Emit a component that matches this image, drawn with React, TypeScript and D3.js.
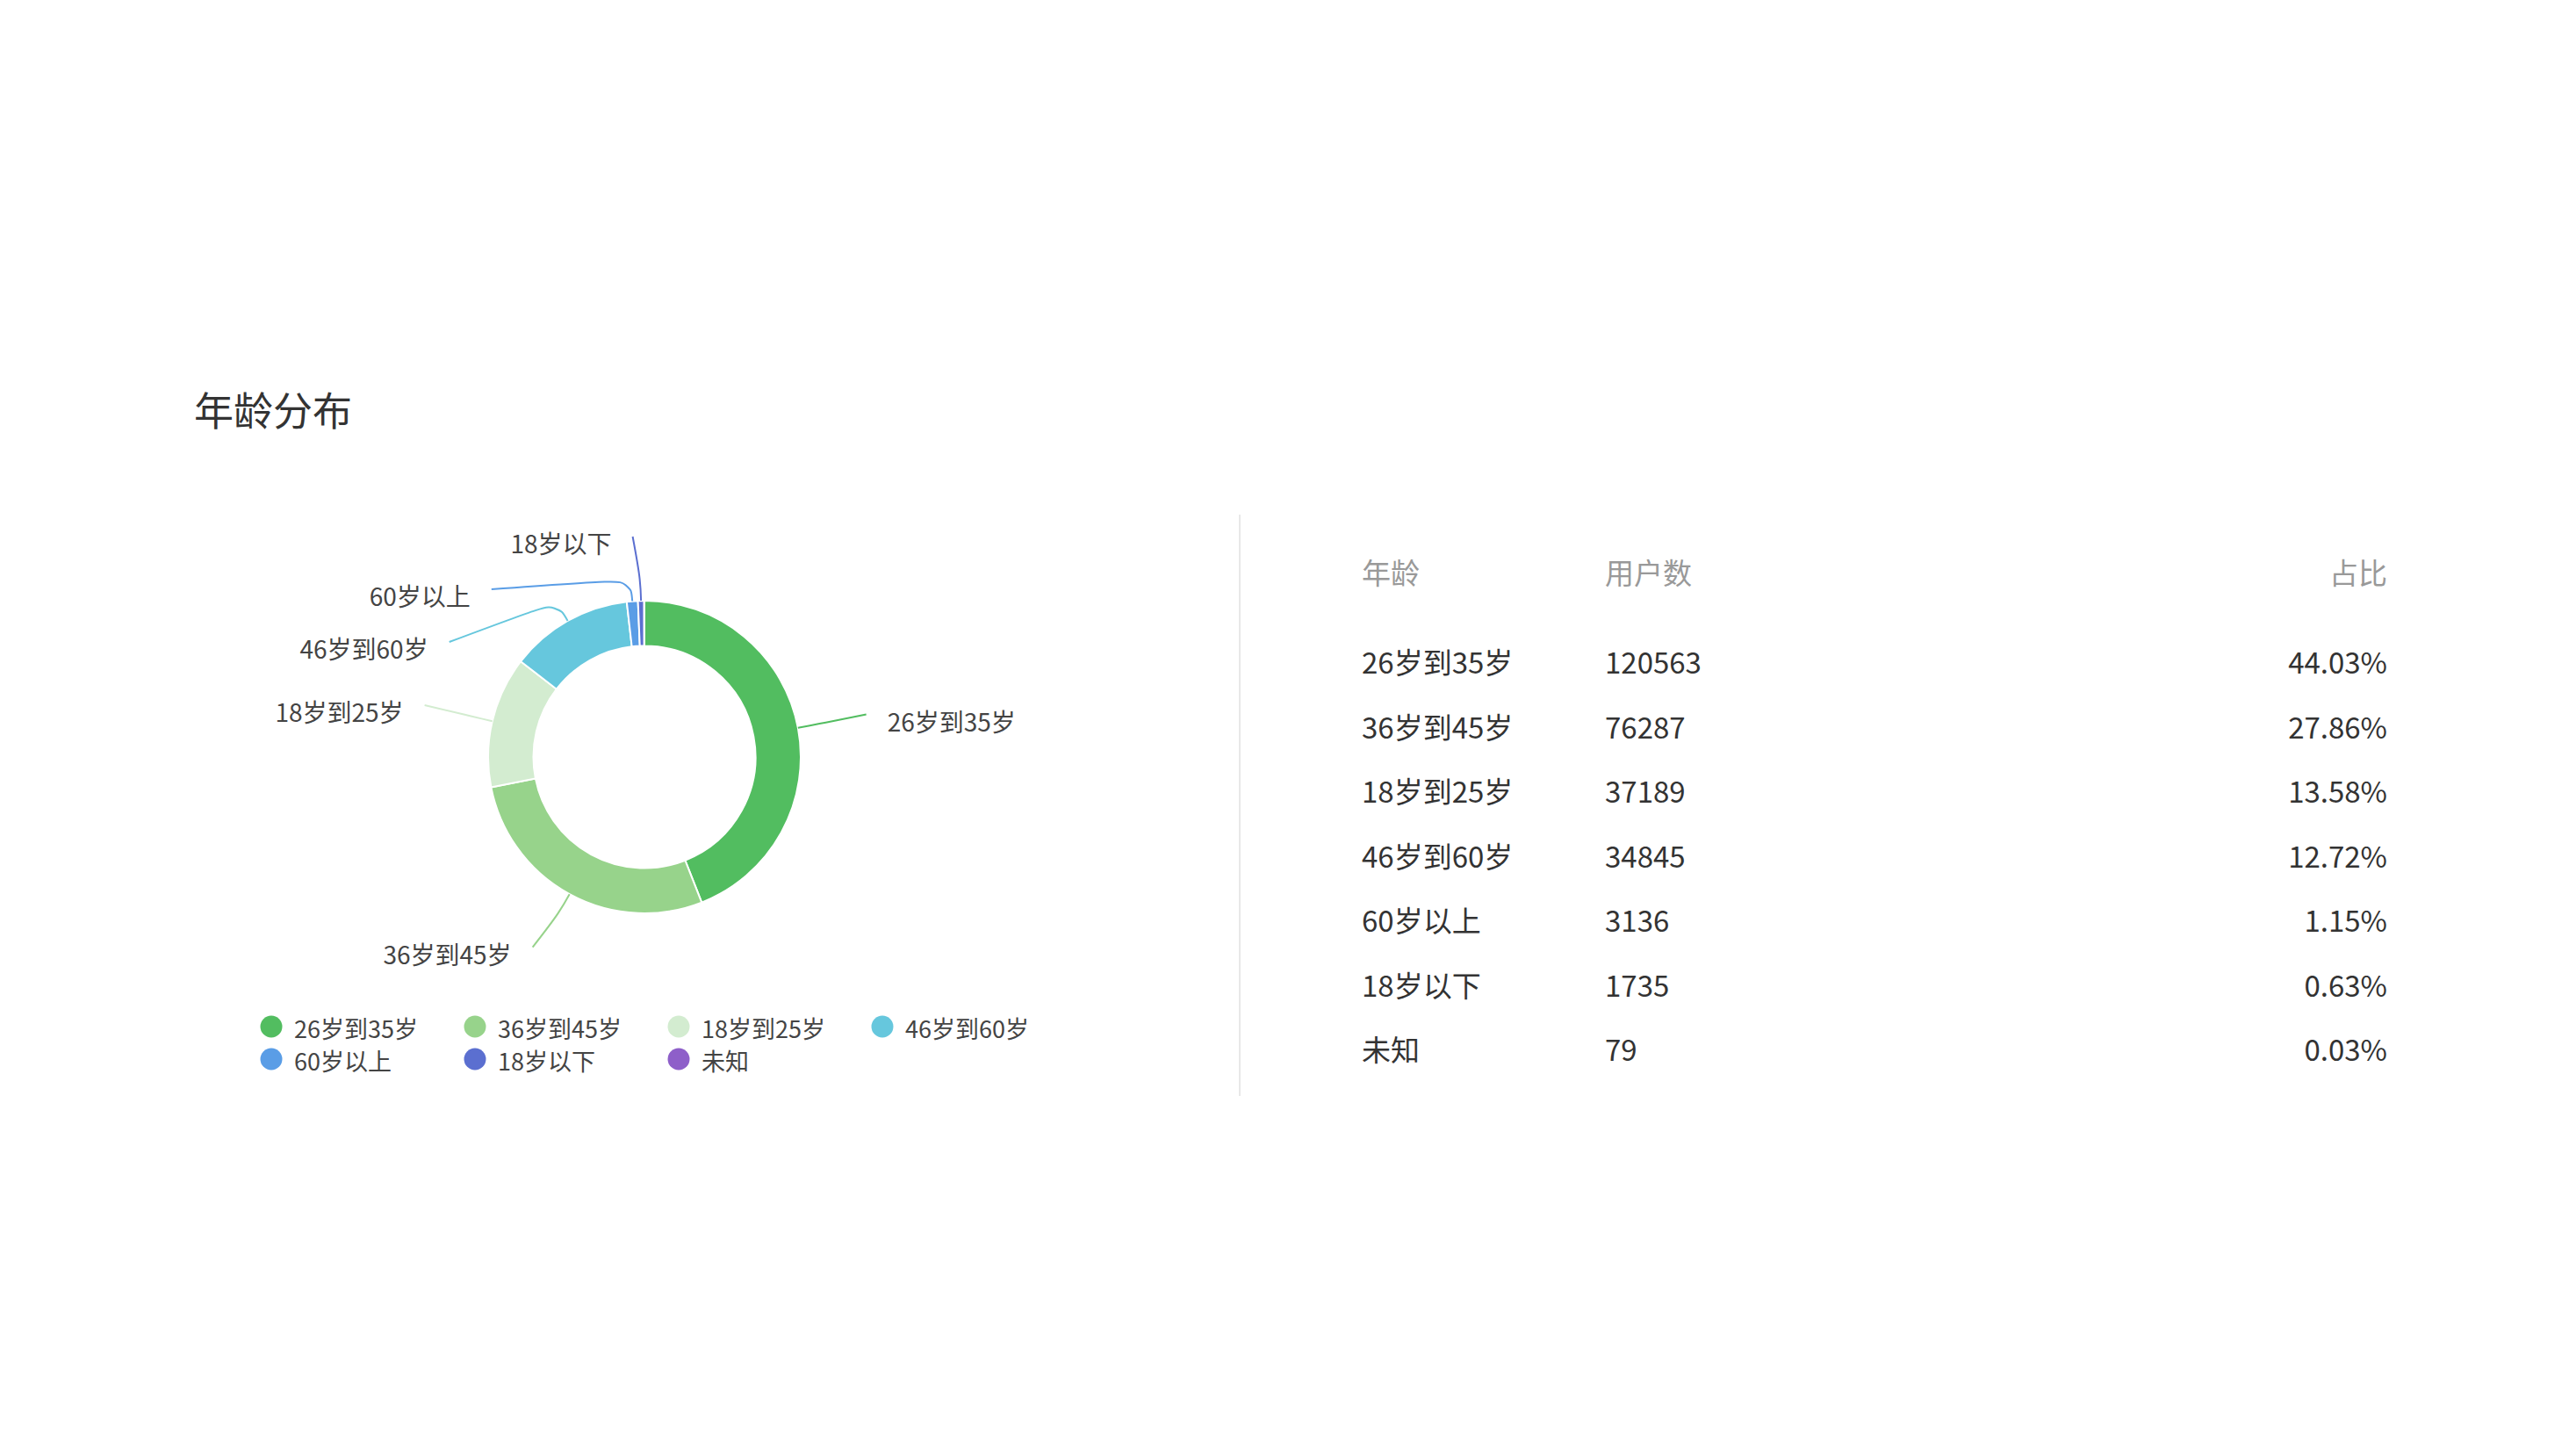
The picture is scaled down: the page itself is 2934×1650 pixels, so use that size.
import React from "react";
import * as d3 from "d3";

const title = "年龄分布";
const categories = ["26岁到35岁", "36岁到45岁", "18岁到25岁", "46岁到60岁", "60岁以上", "18岁以下", "未知"];
const userCounts = [120563, 76287, 37189, 34845, 3136, 1735, 79];
const sliceColors = ["#52bd60", "#97d38b", "#d3ecd0", "#66c7dd", "#5a9de6", "#5b6fd0", "#8e5fc9"];
const tableHeaders = ["年龄", "用户数", "占比"];

const FONT = "'Noto Sans CJK SC', 'Noto Sans', sans-serif";

type Pt = [number, number];

function smoothLinePath(p0: Pt, p1: Pt, p2: Pt, smooth: number) {
  const dist = (a: Pt, b: Pt) => Math.hypot(a[0] - b[0], a[1] - b[1]);
  const lerp = (a: Pt, b: Pt, t: number): Pt => [a[0] + (b[0] - a[0]) * t, a[1] + (b[1] - a[1]) * t];
  const l1 = dist(p0, p1);
  const l2 = dist(p1, p2);
  const p = d3.path();
  p.moveTo(p0[0], p0[1]);
  if (!l1 || !l2) {
    p.lineTo(p1[0], p1[1]);
    p.lineTo(p2[0], p2[1]);
    return p.toString();
  }
  const m = Math.min(l1, l2) * smooth;
  const m0 = lerp(p1, p0, m / l1);
  const m2 = lerp(p1, p2, m / l2);
  const m1 = lerp(m0, m2, 0.5);
  p.bezierCurveTo(m0[0], m0[1], m0[0], m0[1], m1[0], m1[1]);
  p.bezierCurveTo(m2[0], m2[1], m2[0], m2[1], p2[0], p2[1]);
  return p.toString();
}

export default function App() {
  const W = 2934, H = 1650;
  const cx = 734, cy = 862, R = 178, r0 = 126.5;
  const len = 71, len2 = 8, lineLen = 25, labelDist = 24, labelH = 60;

  const data = categories.map((c, i) => ({ name: c, value: userCounts[i], color: sliceColors[i] }));
  const total = d3.sum(userCounts);
  const arcs = d3.pie<any>().sort(null).value((d: any) => d.value)(data);
  const arcGen = d3.arc<any>().innerRadius(r0).outerRadius(R);

  // label layout (ECharts-like)
  const minAngle = (1 * Math.PI) / 180;
  const items = arcs
    .filter((a) => a.endAngle - a.startAngle > minAngle)
    .map((a) => {
      const mid = (a.startAngle + a.endAngle) / 2;
      const dx = Math.sin(mid), dy = -Math.cos(mid);
      const dir = dx < 0 ? -1 : 1;
      return {
        a, dx, dy, dir,
        x: cx + dx * (R + len) + dir * len2,
        y: cy + dy * (R + len),
        shifted: false,
        p0: [cx + dx * R, cy + dy * R] as Pt,
        p1: [cx + dx * (R + lineLen), cy + dy * (R + lineLen)] as Pt,
      };
    });
  [-1, 1].forEach((side) => {
    const list = items.filter((it) => it.dir === side).sort((p, q) => p.y - q.y);
    for (let i = 1; i < list.length; i++) {
      const need = list[i - 1].y + labelH;
      if (list[i].y < need) {
        list[i].y = need;
        list[i].shifted = true;
      }
    }
    const rr = R + len + len2;
    list.forEach((it) => {
      if (!it.shifted) return;
      const dY = Math.abs(it.y - cy);
      if (dY < R + len) it.x = cx + side * Math.sqrt(rr * rr - dY * dY);
    });
  });

  const legendX = d3.scaleLinear().domain([0, 1]).range([309, 309 + 232]);
  const rowY = d3.scaleLinear().domain([0, 1]).range([753, 753 + 73.5]);

  return (
    <svg width={W} height={H} style={{ position: "fixed", left: 0, top: 0, background: "#fff", fontFamily: FONT }}>
      <rect width={W} height={H} fill="#fff" />
      <text x={221} y={465} fontSize={45} fill="#333" dominantBaseline="central">{title}</text>

      {/* donut */}
      <g transform={`translate(${cx},${cy})`}>
        {arcs.map((a, i) => (
          <path key={i} d={arcGen(a) as string} fill={a.data.color} stroke="#fff" strokeWidth={2} strokeLinejoin="round" />
        ))}
      </g>

      {/* label lines and labels */}
      {items.map((it, i) => {
        const p2: Pt = [it.x, it.y - 2];
        return (
          <g key={i}>
            <path d={smoothLinePath(it.p0, it.p1, p2, 0.5)} fill="none" stroke={it.a.data.color} strokeWidth={2} />
            <text
              x={it.x + it.dir * labelDist}
              y={it.y + 5}
              fontSize={28}
              fill="#444"
              textAnchor={it.dir < 0 ? "end" : "start"}
              dominantBaseline="central"
            >
              {it.a.data.name}
            </text>
          </g>
        );
      })}

      {/* legend */}
      {data.map((d, i) => {
        const col = i % 4, row = Math.floor(i / 4);
        const x = legendX(col);
        const y = 1169 + row * 37;
        return (
          <g key={i}>
            <circle cx={x} cy={y} r={12.5} fill={d.color} />
            <text x={x + 26} y={y + 1} fontSize={27} fill="#444" dominantBaseline="central">{d.name}</text>
          </g>
        );
      })}

      {/* divider */}
      <line x1={1412} x2={1412} y1={586} y2={1248} stroke="#e8e8e8" strokeWidth={2} />

      {/* table */}
      <g fontSize={33}>
        <text x={1551} y={651} fill="#999" dominantBaseline="central">{tableHeaders[0]}</text>
        <text x={1828} y={651} fill="#999" dominantBaseline="central">{tableHeaders[1]}</text>
        <text x={2719} y={651} fill="#999" textAnchor="end" dominantBaseline="central">{tableHeaders[2]}</text>
        {data.map((d, i) => (
          <g key={i}>
            <text x={1551} y={rowY(i)} fill="#333" dominantBaseline="central">{d.name}</text>
            <text x={1828} y={rowY(i)} fill="#333" dominantBaseline="central">{d.value}</text>
            <text x={2719} y={rowY(i)} fill="#333" textAnchor="end" dominantBaseline="central">
              {((d.value / total) * 100).toFixed(2) + "%"}
            </text>
          </g>
        ))}
      </g>
    </svg>
  );
}
